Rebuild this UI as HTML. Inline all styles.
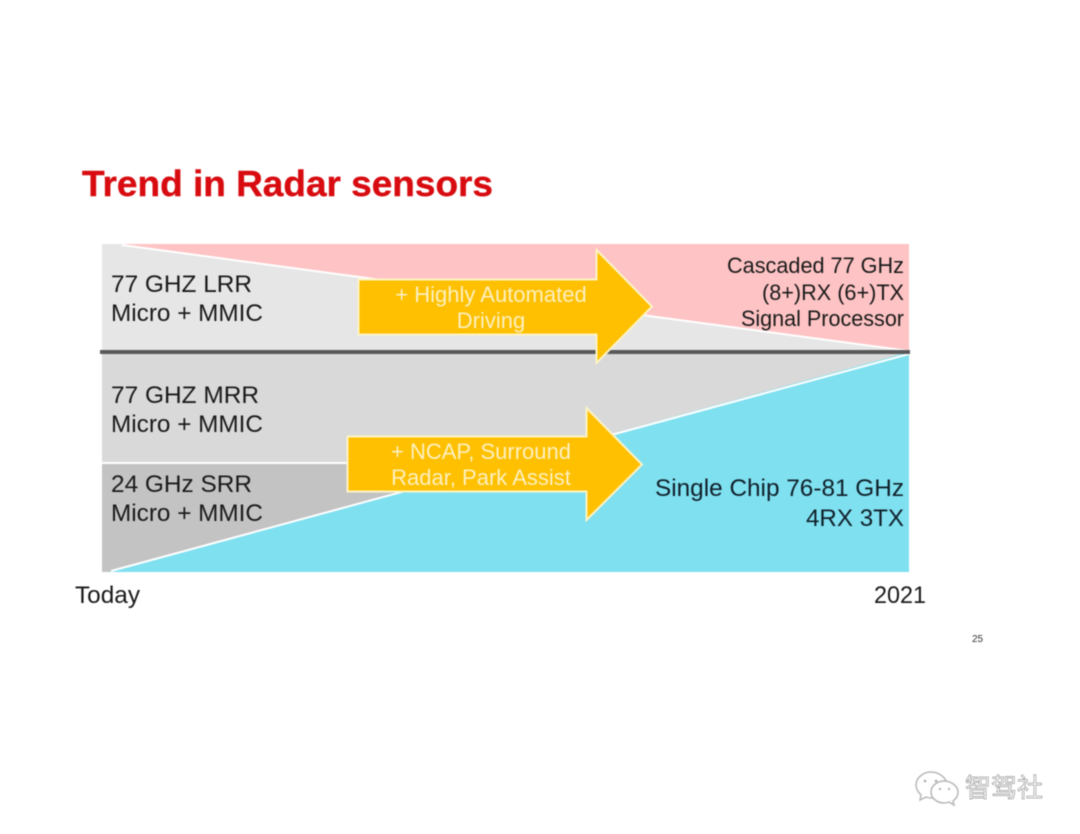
<!DOCTYPE html>
<html><head><meta charset="utf-8"><style>
html,body{margin:0;padding:0;background:#fff}
svg{display:block;filter:blur(0.4px)}
text{font-family:"Liberation Sans",sans-serif}
</style></head><body>
<svg width="1080" height="834" viewBox="0 0 1080 834" xmlns="http://www.w3.org/2000/svg">
<rect width="1080" height="834" fill="#fff"/>
<text x="82" y="196" font-size="36" font-weight="700" fill="#d80c10" stroke="#d80c10" stroke-width="0.4" textLength="411" lengthAdjust="spacingAndGlyphs">Trend in Radar sensors</text>
<rect x="102" y="244" width="807" height="108" fill="#fec3c4"/>
<polygon points="102,244 122,244 909,352 102,352" fill="#e6e6e6"/>
<line x1="122" y1="245" x2="909" y2="351" stroke="#fff" stroke-width="2"/>
<rect x="102" y="352" width="807" height="220" fill="#d9d9d9"/>
<rect x="102" y="463" width="300" height="109" fill="#c3c3c3"/>
<polygon points="109,572 909,352 909,572" fill="#7fe0f0"/>
<line x1="111" y1="571" x2="909" y2="354" stroke="#fff" stroke-width="2"/>
<line x1="102" y1="463" x2="350" y2="463" stroke="#fff" stroke-width="2"/>
<rect x="100" y="350" width="810" height="4" fill="#595959"/>
<polygon points="358.500,279.500 596.500,279.500 596.500,250 652,306.500 596.500,363 596.500,334.500 358.500,334.500" fill="#fec000" stroke="#fdf3c4" stroke-width="2"/>
<polygon points="347.500,436.500 586.500,436.500 586.500,408 642,464.500 586.500,520 586.500,491.500 347.500,491.500" fill="#fec000" stroke="#fdf3c4" stroke-width="2"/>
<g font-size="24" fill="#1a1a1a">
<text x="111" y="292" textLength="141" lengthAdjust="spacingAndGlyphs">77 GHZ LRR</text>
<text x="111" y="321" textLength="152" lengthAdjust="spacingAndGlyphs">Micro + MMIC</text>
<text x="111" y="403" textLength="148" lengthAdjust="spacingAndGlyphs">77 GHZ MRR</text>
<text x="111" y="432" textLength="152" lengthAdjust="spacingAndGlyphs">Micro + MMIC</text>
<text x="111" y="492" textLength="141" lengthAdjust="spacingAndGlyphs">24 GHz SRR</text>
<text x="111" y="521" textLength="152" lengthAdjust="spacingAndGlyphs">Micro + MMIC</text>
</g>
<g font-size="22" fill="#1a1a1a">
<text x="727" y="273" textLength="177" lengthAdjust="spacingAndGlyphs">Cascaded 77 GHz</text>
<text x="762" y="300" textLength="142" lengthAdjust="spacingAndGlyphs">(8+)RX (6+)TX</text>
<text x="741" y="326" textLength="163" lengthAdjust="spacingAndGlyphs">Signal Processor</text>
</g>
<g font-size="24" fill="#10202a">
<text x="655" y="496" textLength="249" lengthAdjust="spacingAndGlyphs">Single Chip 76-81 GHz</text>
<text x="806" y="526" textLength="98" lengthAdjust="spacingAndGlyphs">4RX 3TX</text>
</g>
<g font-size="22" fill="#fdf0c0" text-anchor="middle">
<text x="491" y="302">+ Highly Automated</text>
<text x="491" y="328">Driving</text>
<text x="481" y="459">+ NCAP, Surround</text>
<text x="481" y="485">Radar, Park Assist</text>
</g>
<text x="75" y="603" font-size="24" fill="#1a1a1a" textLength="65" lengthAdjust="spacingAndGlyphs">Today</text>
<text x="874" y="603" font-size="24" fill="#1a1a1a" textLength="52" lengthAdjust="spacingAndGlyphs">2021</text>
<text x="972" y="642" font-size="10" fill="#333">25</text>
<g fill="#fff" stroke="#b8b8b8" stroke-width="1.500">
<path d="M931 772c-8 0-15 6-15 13 0 4 2 7 5 10l-1 5 6-3c2 1 4 1 6 1 8 0 15-6 15-13s-8-13-16-13z"/>
<path d="M944 781c-7 0-13 5-13 11s6 11 13 11c2 0 3 0 5-1l5 3-1-4c3-2 5-5 5-9 0-6-7-11-14-11z"/>
</g>
<g fill="#aaa">
<circle cx="925" cy="781" r="1.300"/><circle cx="936" cy="781" r="1.300"/>
<circle cx="940" cy="789" r="1.100"/><circle cx="949" cy="789" r="1.100"/>
</g>
<text x="965" y="797" font-size="26" fill="#fff" stroke="#9a9a9a" stroke-width="0.700" style="font-family:'Liberation Sans','Noto Sans CJK SC',sans-serif">智驾社</text>
</svg>
</body></html>
